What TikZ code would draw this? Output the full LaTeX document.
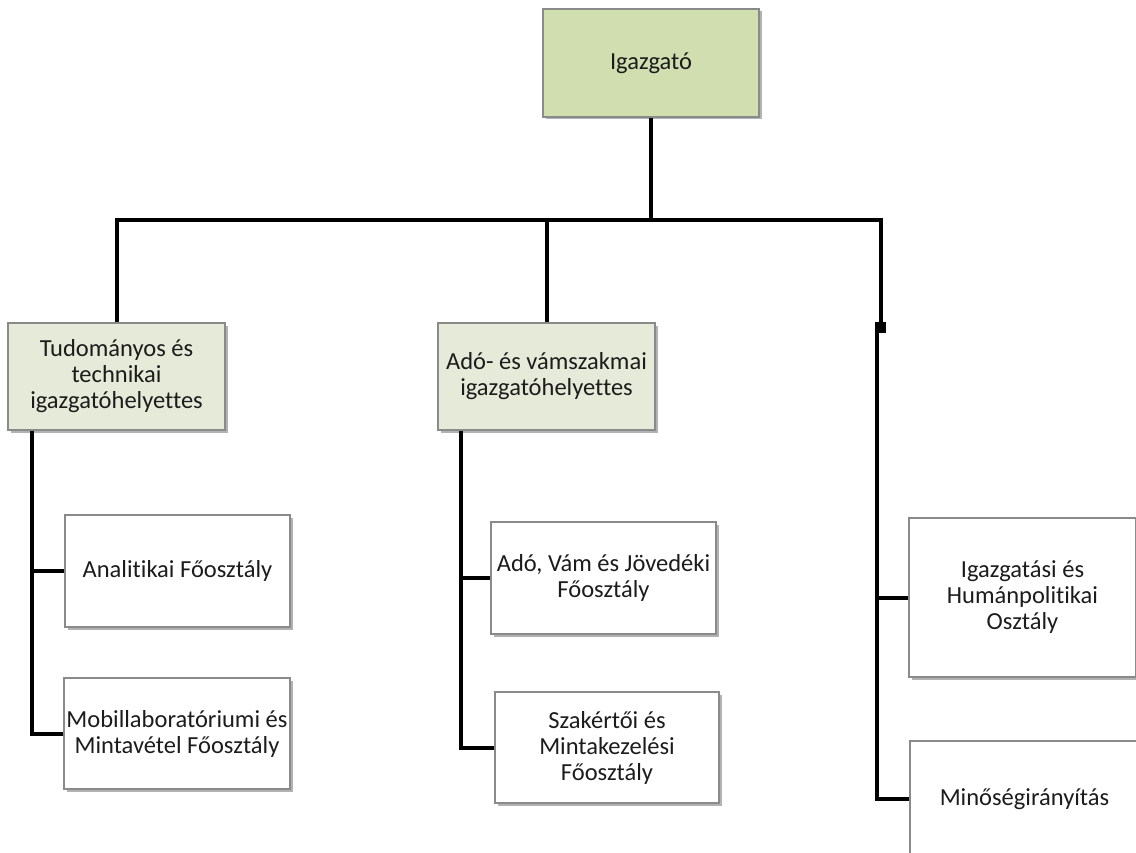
\documentclass[tikz,border=0pt]{standalone}
\usepackage{fontspec}
\setmainfont[Ligatures=NoCommon]{Carlito}
\usetikzlibrary{shadows}
\definecolor{headfill}{HTML}{D1DEB0}
\definecolor{deputyfill}{HTML}{E5EBD8}
\definecolor{boxline}{HTML}{8A8A8A}
\definecolor{txt}{HTML}{1C1C1C}
\tikzset{
  unit/.style={draw=boxline, line width=1.1pt, fill=white, inner sep=0pt,
    align=center, text=txt, font=\fontsize{24.5}{26}\selectfont,
    drop shadow={shadow xshift=2.5pt, shadow yshift=-2.5pt, fill=black, opacity=.3}},
  head/.style={unit, fill=headfill},
  deputy/.style={unit, fill=deputyfill},
  link/.style={line width=4pt, draw=black},
  joint/.style={fill=black, draw=none, minimum size=11pt, inner sep=0pt}
}
\begin{document}
\begin{tikzpicture}[x=1pt, y=-1pt]
\useasboundingbox (0,0) rectangle (1136,853);

% top level
\node[head, minimum width=216pt, minimum height=108pt] (dir) at (651,63) {Igazgató};

% deputies
\node[deputy, minimum width=217pt, minimum height=107pt] (tud) at (116.5,376.5)
  {Tudományos és\\technikai\\igazgatóhelyettes};
\node[deputy, minimum width=217pt, minimum height=107pt] (ado) at (546.5,376.5)
  {Adó- és vámszakmai\\igazgatóhelyettes};

% departments
\node[unit, minimum width=225pt, minimum height=112pt] (ana) at (177.5,571) {Analitikai Főosztály};
\node[unit, minimum width=226pt, minimum height=111pt] (mob) at (177,733.5)
  {Mobillaboratóriumi és\\Mintavétel Főosztály};
\node[unit, minimum width=225pt, minimum height=112pt] (avj) at (603.5,578)
  {Adó, Vám és Jövedéki\\Főosztály};
\node[unit, minimum width=224pt, minimum height=111pt] (szk) at (607,747.5)
  {Szakértői és\\Mintakezelési\\Főosztály};
\node[unit, minimum width=227pt, minimum height=159pt] (igh) at (1022.5,597.5)
  {Igazgatási és\\Humánpolitikai\\Osztály};
\node[unit, minimum width=229pt, minimum height=116pt, text width=225pt] (min) at (1024.5,799)
  {Minőségirányítás};

% junction on the right branch
\node[joint] (jn) at (880.5,327.5) {};

% connector skeleton
\coordinate (barL) at (116.5,220);
\coordinate (barR) at (880.5,220);
\coordinate (lv) at (32,0);
\coordinate (mv) at (461,0);
\coordinate (rv) at (877,0);

\draw[link] (dir.south) -- (dir.south |- barL);
\draw[link] (tud.north) -- (barL) -- (barR) -- (jn.north);
\draw[link] (ado.north) -- (ado.north |- barL);

\draw[link] (lv |- tud.south) |- (mob.west);
\draw[link] (lv |- ana.west) -- (ana.west);

\draw[link] (mv |- ado.south) |- (szk.west);
\draw[link] (mv |- avj.west) -- (avj.west);

\draw[link] (rv |- jn.south) |- (min.west);
\draw[link] (rv |- igh.west) -- (igh.west);
\end{tikzpicture}
\end{document}
